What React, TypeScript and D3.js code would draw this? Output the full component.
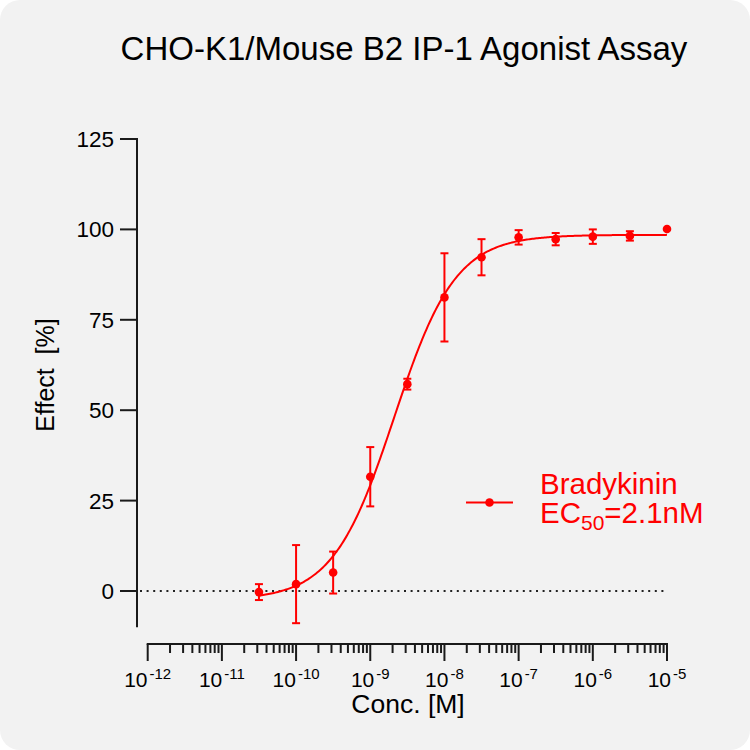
import React from "react";
import * as d3 from "d3";

const title = "CHO-K1/Mouse B2 IP-1 Agonist Assay";
const xLabel = "Conc. [M]";
const yLabel = "Effect  [%]";
const seriesName = "Bradykinin";

// concentrations (M)
const conc = [3.16e-11, 1e-10, 3.16e-10, 1e-9, 3.16e-9, 1e-8, 3.16e-8, 1e-7, 3.16e-7, 1e-6, 3.16e-6, 1e-5];
const effect = [-0.3, 1.9, 5.1, 31.6, 57.2, 81.2, 92.3, 97.8, 97.3, 98.0, 98.2, 100.1];
const sem = [2.2, 10.8, 5.8, 8.2, 1.5, 12.2, 5.0, 2.0, 1.7, 2.0, 1.3, 0];

// 4PL fit parameters
const fitBottom = -2.5;
const fitTop = 98.5;
const fitLogEC50 = Math.log10(2.1e-9);
const fitHill = 1.05;

const xTickExps = [-12, -11, -10, -9, -8, -7, -6, -5];
const yTicks = [0, 25, 50, 75, 100, 125];

const RED = "#ff0000";
const FONT = "'Liberation Sans', Arial, sans-serif";

export default function App() {
  const x = d3.scaleLog().domain([1e-12, 1e-5]).range([147.7, 667]);
  const y = d3.scaleLinear().domain([0, 125]).range([591, 139]);

  const minorTicks: number[] = [];
  for (let e = -12; e < -5; e++) {
    for (let m = 2; m <= 9; m++) minorTicks.push(m * Math.pow(10, e));
  }

  const fit = (c: number) =>
    fitBottom + (fitTop - fitBottom) / (1 + Math.pow(10, (fitLogEC50 - Math.log10(c)) * fitHill));
  const curvePts: [number, number][] = [];
  const lo = Math.log10(conc[0]);
  const hi = Math.log10(conc[conc.length - 1]);
  for (let i = 0; i <= 300; i++) {
    const lc = lo + ((hi - lo) * i) / 300;
    const c = Math.pow(10, lc);
    curvePts.push([x(c), y(fit(c))]);
  }
  const line = d3.line();

  const axisColor = "#1a1a1a";

  return (
    <svg
      width={750}
      height={750}
      style={{ position: "absolute", left: 0, top: 0 }}
      fontFamily={FONT}
    >
      <rect x={0} y={0} width={750} height={750} fill="#ffffff" />
      <rect x={0} y={0} width={750} height={750} rx={20} ry={20} fill="#f2f2f2" />

      <text x={404} y={60} fontSize={33} textAnchor="middle" fill="#000">
        {title}
      </text>

      {/* zero dotted line */}
      <line
        x1={140}
        x2={667}
        y1={y(0)}
        y2={y(0)}
        stroke="#222"
        strokeWidth={2}
        strokeDasharray="2,4.6"
      />

      {/* Y axis */}
      <line x1={137} x2={137} y1={y(125) - 1} y2={y(-10)} stroke={axisColor} strokeWidth={2} />
      {yTicks.map((t) => (
        <g key={t}>
          <line x1={120} x2={137} y1={y(t)} y2={y(t)} stroke={axisColor} strokeWidth={2} />
          <text x={114} y={y(t) + 8} fontSize={22.5} textAnchor="end" fill="#000">
            {t}
          </text>
        </g>
      ))}
      <text
        transform={`translate(54,375) rotate(-90)`}
        fontSize={25}
        textAnchor="middle"
        fill="#000"
        style={{ whiteSpace: "pre" }}
      >
        {yLabel}
      </text>

      {/* X axis */}
      <line x1={x(1e-12) - 1} x2={x(1e-5) + 1} y1={644} y2={644} stroke={axisColor} strokeWidth={2} />
      {xTickExps.map((e) => (
        <g key={e}>
          <line x1={x(Math.pow(10, e))} x2={x(Math.pow(10, e))} y1={644} y2={661} stroke={axisColor} strokeWidth={2} />
          <text x={x(Math.pow(10, e))} y={687} fontSize={21} textAnchor="middle" fill="#000">
            10
            <tspan dx={2} dy={-8} fontSize={15}>
              {String(e)}
            </tspan>
          </text>
        </g>
      ))}
      {minorTicks.map((t, i) => (
        <line key={i} x1={x(t)} x2={x(t)} y1={644} y2={653} stroke={axisColor} strokeWidth={2} />
      ))}
      <text x={408} y={713} fontSize={26.5} textAnchor="middle" fill="#000">
        {xLabel}
      </text>

      {/* fit curve */}
      <path d={line(curvePts) || ""} fill="none" stroke={RED} strokeWidth={2} />

      {/* error bars */}
      {conc.map((c, i) =>
        sem[i] > 0 ? (
          <g key={"e" + i} stroke={RED} strokeWidth={2}>
            <line x1={x(c)} x2={x(c)} y1={y(effect[i] + sem[i])} y2={y(effect[i] - sem[i])} />
            <line x1={x(c) - 4} x2={x(c) + 4} y1={y(effect[i] + sem[i])} y2={y(effect[i] + sem[i])} />
            <line x1={x(c) - 4} x2={x(c) + 4} y1={y(effect[i] - sem[i])} y2={y(effect[i] - sem[i])} />
          </g>
        ) : null
      )}
      {/* points */}
      {conc.map((c, i) => (
        <circle key={"p" + i} cx={x(c)} cy={y(effect[i])} r={4.3} fill={RED} />
      ))}

      {/* legend */}
      <line x1={466} x2={513} y1={502.5} y2={502.5} stroke={RED} strokeWidth={2} />
      <circle cx={489.5} cy={502.5} r={4.3} fill={RED} />
      <text x={540} y={494} fontSize={29.5} fill={RED}>
        {seriesName}
      </text>
      <text x={540} y={523} fontSize={29.5} fill={RED}>
        EC
        <tspan dy={7} fontSize={21}>
          50
        </tspan>
        <tspan dy={-7}>=2.1nM</tspan>
      </text>
    </svg>
  );
}
